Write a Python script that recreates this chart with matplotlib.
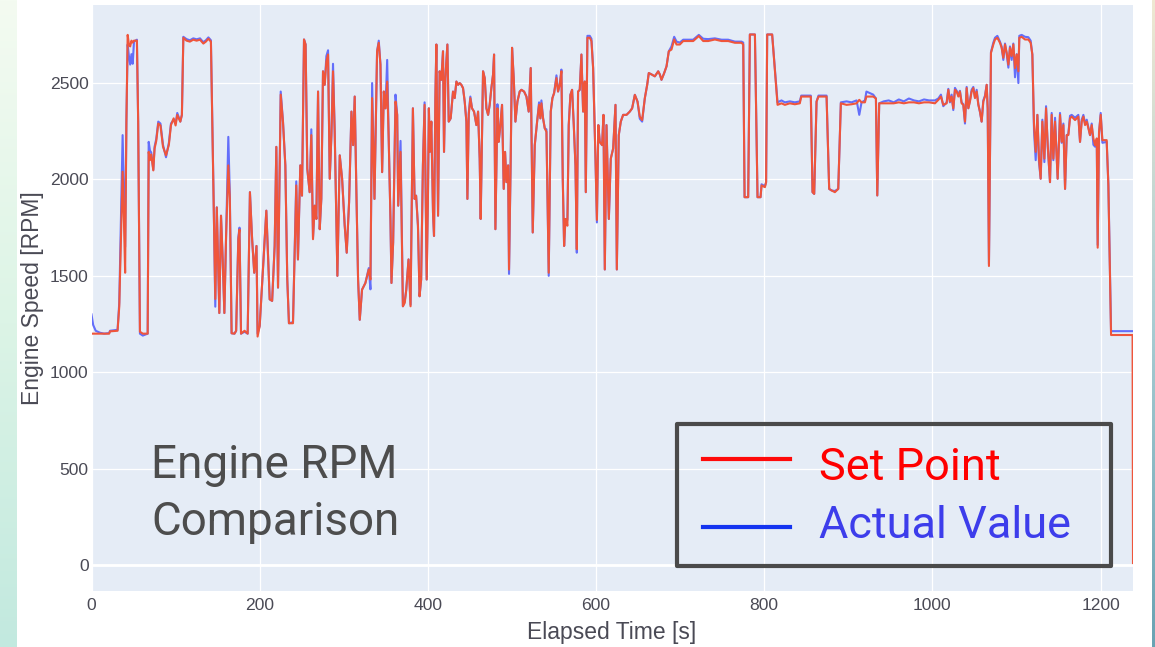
import matplotlib
matplotlib.use('Agg')
import matplotlib.pyplot as plt
import numpy as np
from matplotlib.patches import Rectangle
from matplotlib.lines import Line2D
from matplotlib.colors import LinearSegmentedColormap

plt.rcParams['font.family'] = ['Liberation Sans', 'DejaVu Sans']

# ---------------- data ----------------
time_s = [
    0, 2, 5, 10, 15, 21, 22, 31, 33, 35, 37, 38.5, 40, 41.5, 43, 44.5, 46, 47.5, 49, 50.5,
    54, 55.5, 57.6, 61, 66.8, 68, 69.5, 71, 73.5, 75, 77, 79.4, 82, 85, 88.6, 92, 94.5, 97.7,
    100, 102, 105.6, 107.5, 109.2, 113, 117, 121, 125, 129, 133, 136, 139, 142, 145.3, 147.2,
    149, 152, 154, 156, 158, 160, 162.7, 164.5, 166.6, 170, 172, 174.6, 176, 177.8, 182, 185.7,
    188.4, 191, 193.5, 196.2, 197.5, 200, 202.7, 207.9, 211.9, 214.8, 217.8, 219.8, 221.8, 225,
    227.7, 230.5, 232.8, 234.8, 239.6, 243.5, 245.5, 248.3, 250.3, 252.7, 254.6, 256.6, 259.4,
    261.4, 263.4, 265.4, 267.4, 269.4, 271.4, 273.3, 275.3, 277.3, 279.3, 281.3, 283.3, 285.3,
    287.2, 289.2, 292.4, 295.2, 298, 301.1, 303.5, 306.3, 309.1, 311.1, 313, 315, 317, 319,
    321.7, 325.7, 329.7, 331.7, 333.7, 336.5, 339.6, 341.6, 343.6, 345.6, 347.6, 349.6, 351.6,
    353.5, 355.5, 356.7, 358.7, 361.5, 363.5, 364.7, 367.5, 370.3, 372.5, 374.3, 377, 379.4,
    382.2, 384.2, 386, 388.2, 390.1, 392, 394.1, 396.1, 398.6, 400, 401.2, 402.3, 404.1, 406.1,
    407.3, 408.9, 410.1, 412.1, 414, 416, 418, 419.2, 420.8, 423.2, 424.8, 427.1, 429.9, 431.9,
    433.9, 435.9, 437.8, 439.8, 441.8, 443.8, 445.8, 447, 448.6, 450.5, 452.5, 454.9, 457.7,
    459.7, 461.6, 462.8, 465.6, 467.6, 469.6, 471.6, 473.5, 475.5, 477.5, 478.7, 480.3, 482.7,
    484.2, 485.8, 488.2, 490.2, 491.8, 493.4, 495.4, 496.5, 498.5, 500.1, 502.1, 504.1, 506.5,
    509.2, 511.2, 514.4, 517.2, 519.9, 522.3, 524.7, 527.1, 529.9, 532.2, 533.8, 535, 537, 539,
    541, 543.7, 546.1, 548.1, 550.1, 552.9, 554.8, 556.8, 558.8, 560.4, 562, 563.6, 565.9,
    567.5, 569.5, 571.5, 573.5, 575.5, 577.1, 578.6, 580.6, 582.6, 584.6, 586.6, 587.8, 589.7,
    592.5, 594.5, 596.5, 599.3, 601, 602.7, 604.4, 607.2, 608.8, 610.4, 612.4, 615.2, 617.5,
    620.3, 623.1, 624.7, 627, 629.4, 632.2, 636.2, 640.1, 642.9, 646.1, 649.3, 652, 654.8, 658,
    660.8, 662.7, 665.9, 669.9, 673.9, 675.8, 677.8, 681, 683.8, 686.5, 689.7, 692.9, 695.7,
    699.6, 703.6, 709.5, 715.5, 722.2, 727.4, 733.3, 741.3, 749.2, 757.1, 765.1, 773, 775,
    776.6, 780.9, 782.9, 788.9, 792, 795.6, 796.8, 800.8, 802.2, 803.5, 809.4, 815.8, 820.5,
    824.5, 830.4, 836.4, 842.3, 844, 855.4, 857.4, 859.4, 862.2, 864.5, 874.1, 877.2, 880, 884,
    888, 891.1, 897.9, 903.8, 909.8, 913, 915.7, 919.7, 921.5, 929.6, 932.8, 934.4, 936.7, 942,
    948, 954, 960, 966, 972, 978, 984, 990, 996, 1003, 1007, 1010.1, 1012.9, 1016.9, 1018.9,
    1020.8, 1022.8, 1024.8, 1026.8, 1028.8, 1030.8, 1032.7, 1034.7, 1036.7, 1038.7, 1040.7,
    1042.7, 1044.6, 1046.6, 1048.6, 1050.6, 1052.6, 1054.6, 1056.5, 1058.5, 1060.5, 1062.5,
    1064.5, 1065.7, 1067.2, 1069.6, 1072.4, 1074.4, 1077.2, 1080.3, 1082.3, 1084.3, 1086.3,
    1088.3, 1090.3, 1092.2, 1094.2, 1096.2, 1098.2, 1100.2, 1102.2, 1103.3, 1106.1, 1110.1,
    1114, 1116.8, 1118.8, 1120.8, 1122.8, 1124.8, 1126.7, 1128.7, 1130.7, 1133.1, 1135.1,
    1137.1, 1139.8, 1141.8, 1143.8, 1145.8, 1148.9, 1151.7, 1153.7, 1155.7, 1157.7, 1159.7,
    1161.6, 1163.6, 1165.6, 1169.6, 1173.5, 1175.5, 1177.5, 1179.5, 1181.5, 1183.5, 1185.4,
    1187.4, 1189.4, 1191.4, 1193.4, 1195.4, 1196.5, 1198.1, 1200.1, 1202.1, 1207.2, 1209.2,
    1212.4, 1225, 1238, 1238.5,
]

set_point = [
    1200, 1200, 1200, 1200, 1200, 1200, 1212, 1215, 1340, 1700, 2040, 1800, 1516, 2300, 2750, 2700, 2690, 2720, 2710, 2720,
    2720, 2300, 1210, 1200, 1200, 2143, 2100, 2130, 2047, 2160, 2200, 2290, 2280, 2170, 2125, 2180, 2282, 2317,
    2280, 2335, 2300, 2335, 2735, 2720, 2715, 2725, 2720, 2725, 2705, 2715, 2730, 2715, 1864, 1380,
    1855, 1307, 1812, 1585, 1307, 1700, 2073, 1900, 1202, 1200, 1215, 1690, 1740, 1200, 1215, 1200,
    1934, 1690, 1516, 1655, 1185, 1240, 1446, 1838, 1378, 1370, 1655, 2169, 1439, 2440,
    2300, 2073, 1481, 1254, 1254, 1969, 1585, 2073, 1916, 2726, 2700, 2056, 1934,
    2230, 1690, 1864, 1795, 2456, 1742, 1900, 2561, 2491, 2613, 2648, 2004, 2230,
    2561, 2247, 1500, 2125, 2004, 1760, 1620, 1882, 2352, 2178, 2430, 1934, 1481, 1272,
    1428, 1463, 1533, 1481, 2422, 1899, 2665, 2709, 2596, 2038, 2456, 2369, 2508,
    2195, 1795, 1463, 1673, 2404, 2335, 1864, 2143, 1342, 1360, 1428, 1585, 1342,
    2369, 1899, 1916, 1760, 1394, 1481, 2073, 2387, 1481, 1882, 2369, 2143, 2300, 1829,
    1707, 2422, 2700, 1812, 2561, 2517, 2665, 2143, 2526, 2700, 2300, 2317, 2456, 2422,
    2508, 2491, 2500, 2491, 2474, 2404, 2300, 1899, 2335, 2422, 2369, 2352, 2282,
    2352, 2108, 1795, 2561, 2526, 2369, 2335, 2387, 2474, 2544, 2648, 1742, 2369,
    2195, 2265, 2387, 1951, 2143, 1986, 2073, 1533, 2108, 2683, 2526, 2300, 2404,
    2456, 2465, 2456, 2430, 2352, 2578, 1725, 2178, 2300, 2387, 2317, 2395, 2317, 2265,
    2247, 1516, 2352, 2422, 2448, 2526, 2456, 2491, 2561, 2004, 1655, 1795, 1760,
    2282, 2439, 2465, 2282, 2073, 1638, 2456, 2465, 2648, 2352, 2508, 1934, 2735,
    2735, 2718, 2578, 2108, 1790, 2282, 2195, 2178, 2335, 1533, 2282, 1795, 2108,
    2160, 2387, 1533, 2230, 2300, 2335, 2335, 2352, 2369, 2439, 2404, 2326, 2308, 2422,
    2491, 2552, 2545, 2535, 2561, 2545, 2517, 2552, 2587, 2665, 2674, 2726, 2700,
    2700, 2718, 2718, 2718, 2744, 2718, 2718, 2726, 2718, 2718, 2709, 2709, 2700,
    1908, 1908, 2752, 2752, 1908, 1908, 1969, 1960, 1986, 2752, 2752, 2387, 2395,
    2387, 2395, 2390, 2395, 2430, 2430, 1934, 1925, 2404, 2430, 2430, 1951, 1943, 1934,
    1951, 2395, 2387, 2390, 2395, 2413, 2400, 2400, 2430, 2430, 2420, 1917, 2395, 2395,
    2395, 2395, 2400, 2395, 2400, 2400, 2395, 2400, 2400, 2395, 2413, 2430, 2387, 2395, 2465,
    2404, 2430, 2369, 2465, 2456, 2430, 2456, 2395, 2387, 2300, 2474,
    2369, 2404, 2456, 2474, 2422, 2456, 2387, 2352, 2300, 2404, 2430,
    2491, 2369, 1551, 2657, 2700, 2726, 2735, 2709, 2683, 2631, 2700,
    2657, 2596, 2683, 2640, 2700, 2578, 2648, 2561, 2735, 2740, 2726,
    2726, 2709, 2648, 2282, 2143, 2335, 2108, 2004, 2300, 2108, 2369,
    2178, 1986, 2335, 2108, 2300, 2004, 2335, 2195, 2282, 1951, 2230,
    2230, 2317, 2326, 2308, 2326, 2195, 2300, 2326, 2282, 2300, 2265,
    2230, 2282, 2213, 2178, 2213, 1646, 2247, 2335, 2204, 2204, 1969,
    1193, 1193, 1193, 10,
]

actual_value = [
    1300, 1245, 1215, 1205, 1200, 1203, 1215, 1220, 1360, 1800, 2230, 1950, 1650, 2300, 2700, 2640, 2596, 2650, 2600, 2715,
    2725, 2300, 1200, 1190, 1200, 2195, 2150, 2140, 2050, 2170, 2210, 2300, 2290, 2180, 2115, 2190, 2290, 2310,
    2290, 2345, 2300, 2335, 2740, 2728, 2722, 2732, 2727, 2732, 2712, 2722, 2737, 2722, 1880, 1340,
    1855, 1307, 1812, 1585, 1307, 1700, 2221, 1920, 1202, 1200, 1215, 1700, 1750, 1200, 1210, 1200,
    1934, 1690, 1516, 1655, 1200, 1240, 1446, 1838, 1378, 1370, 1655, 2169, 1439, 2456,
    2300, 2073, 1481, 1254, 1260, 1990, 1585, 2073, 1916, 2726, 2700, 2056, 1934,
    2260, 1700, 1864, 1795, 2456, 1742, 1900, 2561, 2491, 2640, 2670, 2004, 2230,
    2600, 2247, 1500, 2125, 2004, 1760, 1620, 1882, 2352, 2178, 2430, 1934, 1481, 1272,
    1428, 1463, 1540, 1430, 2500, 1899, 2665, 2720, 2596, 2038, 2456, 2369, 2620,
    2195, 1795, 1463, 1673, 2440, 2335, 1864, 2200, 1342, 1370, 1428, 1585, 1350,
    2369, 1899, 1916, 1760, 1394, 1481, 2073, 2400, 1481, 1882, 2369, 2143, 2300, 1829,
    1707, 2422, 2700, 1812, 2561, 2517, 2665, 2143, 2526, 2700, 2300, 2317, 2456, 2422,
    2508, 2491, 2500, 2491, 2474, 2404, 2300, 1899, 2345, 2430, 2369, 2352, 2282,
    2352, 2108, 1795, 2561, 2526, 2369, 2335, 2387, 2474, 2544, 2648, 1742, 2390,
    2195, 2265, 2387, 1951, 2143, 1986, 2073, 1510, 2108, 2683, 2526, 2300, 2404,
    2456, 2465, 2456, 2430, 2352, 2578, 1725, 2178, 2300, 2400, 2317, 2410, 2317, 2265,
    2260, 1500, 2352, 2422, 2448, 2540, 2456, 2491, 2570, 2004, 1655, 1795, 1790,
    2282, 2439, 2465, 2282, 2073, 1620, 2456, 2465, 2648, 2352, 2508, 1934, 2745,
    2745, 2730, 2578, 2108, 1777, 2282, 2195, 2178, 2335, 1533, 2282, 1795, 2108,
    2160, 2387, 1533, 2230, 2300, 2335, 2335, 2352, 2369, 2439, 2404, 2315, 2300, 2422,
    2491, 2552, 2545, 2535, 2561, 2545, 2517, 2552, 2587, 2665, 2690, 2740, 2715,
    2710, 2725, 2725, 2725, 2750, 2730, 2728, 2732, 2725, 2725, 2715, 2715, 2710,
    1908, 1908, 2752, 2752, 1908, 1908, 1975, 1965, 1986, 2752, 2752, 2400, 2410,
    2400, 2405, 2400, 2405, 2435, 2435, 1934, 1925, 2404, 2435, 2435, 1951, 1943, 1940,
    1951, 2400, 2405, 2400, 2410, 2335, 2400, 2410, 2456, 2440, 2420, 1917, 2395, 2405,
    2410, 2400, 2415, 2405, 2420, 2410, 2405, 2415, 2410, 2410, 2420, 2440, 2380, 2400, 2470,
    2400, 2440, 2360, 2475, 2460, 2440, 2460, 2400, 2390, 2290, 2480,
    2370, 2410, 2465, 2480, 2425, 2465, 2390, 2350, 2300, 2410, 2435,
    2491, 2369, 1560, 2660, 2710, 2735, 2745, 2715, 2690, 2620, 2705,
    2650, 2580, 2690, 2620, 2705, 2530, 2650, 2500, 2745, 2750, 2740,
    2738, 2720, 2648, 2250, 2100, 2335, 2090, 2004, 2310, 2090, 2380,
    2170, 1986, 2345, 2100, 2320, 2004, 2345, 2190, 2290, 1951, 2230,
    2235, 2330, 2335, 2320, 2335, 2195, 2310, 2335, 2290, 2310, 2270,
    2230, 2290, 2180, 2170, 2200, 1660, 2240, 2345, 2190, 2195, 1980,
    1213, 1213, 1213, 1213,
]

x_ticks = [0, 200, 400, 600, 800, 1000, 1200]
y_ticks = [0, 500, 1000, 1500, 2000, 2500]
x_label = 'Elapsed Time [s]'
y_label = 'Engine Speed [RPM]'
title_lines = ['Engine RPM', 'Comparison']
legend_labels = ['Set Point', 'Actual Value']

# ---------------- figure ----------------
W, H = 1155, 647
fig = plt.figure(figsize=(W / 100, H / 100), dpi=100, facecolor='white')


def fx(px):
    return px / W


def fy(py):
    return 1 - py / H


# slide background strips (left and right edges)
grad = np.linspace(0, 1, 256).reshape(-1, 1)
axl = fig.add_axes([0, 0, fx(17), 1])
axl.imshow(grad, aspect='auto', cmap=LinearSegmentedColormap.from_list('l', ['#f4fbf1', '#dcf4e6', '#c2e9df']))
axl.axis('off')
axr = fig.add_axes([fx(1152), 0, fx(3), 1])
axr.imshow(grad, aspect='auto', cmap=LinearSegmentedColormap.from_list('r', ['#efe8d2', '#a9ccd2', '#6aa3b3']))
axr.axis('off')

ax = fig.add_axes([fx(91.5), fy(591), fx(1133) - fx(91.5), fy(5) - fy(591)])
ax.set_facecolor('#E5ECF6')
for s in ax.spines.values():
    s.set_visible(False)

ax.plot(time_s, actual_value, color='#636EFA', lw=1.5, zorder=3, solid_joinstyle='round')
ax.plot(time_s, set_point, color='#EF553B', lw=1.5, zorder=4, solid_joinstyle='round')

ax.set_xlim(0, 1238.5)
ax.set_ylim(-135, 2905)
ax.set_xticks(x_ticks)
ax.set_yticks(y_ticks)
ax.set_axisbelow(True)
ax.grid(True, color='white', lw=0.9)
ax.axhline(0, color='white', lw=2, zorder=1)
ax.tick_params(length=0, labelsize=12.6, labelcolor='#4a4a55')
ax.tick_params(axis='x', pad=5)
ax.tick_params(axis='y', pad=2)

fig.text(fx(33), fy(298), y_label, rotation=90, ha='center', va='center',
         fontsize=16.5, color='#4a4a55')
fig.text(fx(612), fy(632), x_label, ha='center', va='center',
         fontsize=16.5, color='#4a4a55')

# big annotation text
fig.text(fx(151), fy(478), title_lines[0], fontsize=33, family=['Roboto', 'DejaVu Sans'],
         color='#4d4d4d', va='baseline', ha='left')
fig.text(fx(151), fy(535), title_lines[1], fontsize=33, family=['Roboto', 'DejaVu Sans'],
         color='#4d4d4d', va='baseline', ha='left')

# custom legend box
box = Rectangle((fx(677), fy(566)), fx(1111) - fx(677), fy(424) - fy(566),
                transform=fig.transFigure, fill=False, ec='#4a4a4a', lw=3,
                joinstyle='round', zorder=10)
fig.add_artist(box)
fig.add_artist(Line2D([fx(703), fx(790)], [fy(459), fy(459)], transform=fig.transFigure,
                      color='#FF0A0A', lw=3, zorder=10))
fig.add_artist(Line2D([fx(703), fx(790)], [fy(527), fy(527)], transform=fig.transFigure,
                      color='#1434F0', lw=3, zorder=10))
fig.text(fx(819), fy(480), legend_labels[0], fontsize=32.5, family=['Roboto', 'DejaVu Sans'],
         color='#FF0000', va='baseline', ha='left')
fig.text(fx(819), fy(538), legend_labels[1], fontsize=32.5, family=['Roboto', 'DejaVu Sans'],
         color='#3D3DEB', va='baseline', ha='left')

fig.savefig('out.png', dpi=100, facecolor='white')
